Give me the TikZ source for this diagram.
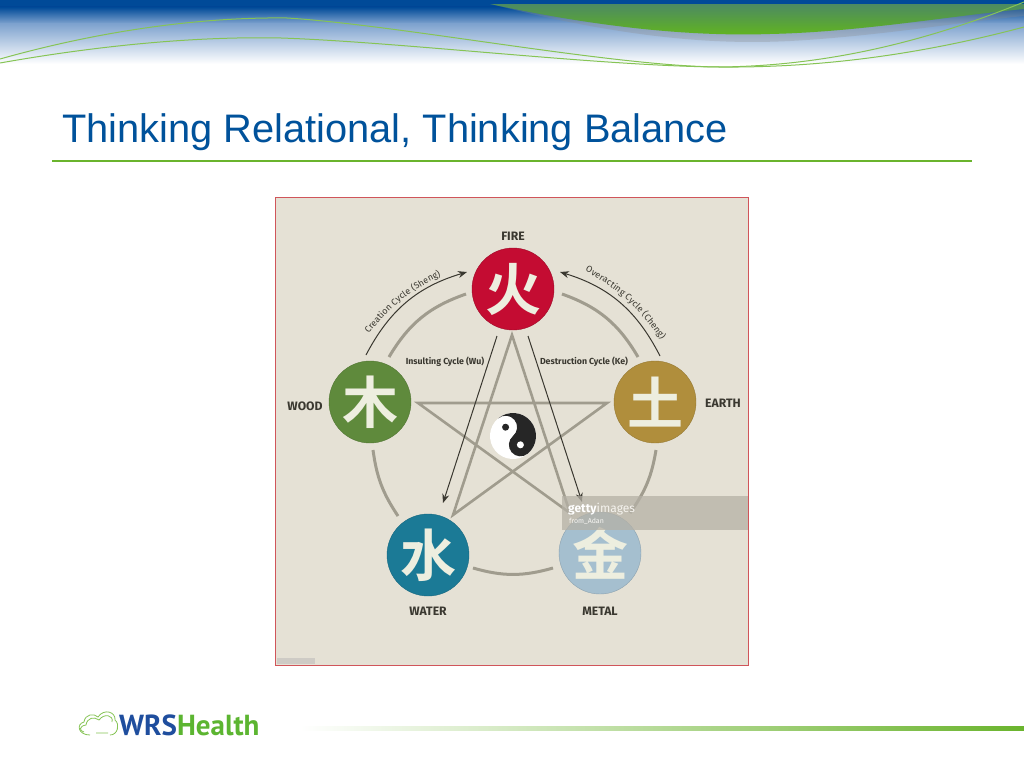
\documentclass[tikz,border=0pt]{standalone}
\usepackage{fontspec}
\usepackage{tikz}
\usetikzlibrary{arrows.meta,decorations.text}
\setmainfont{Liberation Sans}
\newfontfamily\labelfont{Fira Sans}
\newfontfamily\logofont{PT Sans}
\newfontfamily\hanfont{Noto Sans CJK SC}[BoldFont={* Bold}]
\definecolor{slideblue}{HTML}{00529B}
\definecolor{barblue}{HTML}{004A98}
\definecolor{midblue}{HTML}{7FA3CF}
\definecolor{slidegreen}{HTML}{6AB42D}
\definecolor{wavegreen}{HTML}{86C455}
\definecolor{logoblue}{HTML}{1F4E9E}
\definecolor{logogreen}{HTML}{5CB531}
\definecolor{blobtop}{HTML}{4C8A62}
\definecolor{blobbottom}{HTML}{62B51E}
\definecolor{panel}{HTML}{E5E1D5}
\definecolor{panelred}{HTML}{D0555A}
\definecolor{ring}{HTML}{A09C8E}
\definecolor{ink}{HTML}{3A3830}
\definecolor{hanpale}{HTML}{EDEEDF}
\definecolor{firered}{HTML}{C40C32}
\definecolor{woodgreen}{HTML}{5F8A3C}
\definecolor{eartholive}{HTML}{B08E3C}
\definecolor{waterteal}{HTML}{1B7A96}
\definecolor{metalblue}{HTML}{A5BFCF}
\definecolor{bandgrey}{HTML}{B5B1A6}
\tikzset{
	element/.style={circle,minimum size=82pt,inner sep=0pt,text=hanpale,font=\hanfont\bfseries\fontsize{56}{56}\selectfont},
	elementname/.style={text=ink,inner sep=0pt,font=\labelfont\fontsize{12.2}{13}\selectfont\bfseries},
	cyclename/.style={text=ink,inner sep=0pt,font=\labelfont\fontsize{8.8}{10}\selectfont\bfseries},
	ringline/.style={draw=ring,line width=3pt},
	starline/.style={draw=ring,line width=2.6pt,line join=miter},
	thinarrow/.style={draw=ink,line width=1pt,-{Stealth[length=9pt,width=7pt]}},
	cyclepath/.style={decorate,decoration={text along path,text align={fit to path},text color=ink,
		text={|\labelfont\fontsize{9}{10}\selectfont|#1}}}
}
\begin{document}
\begin{tikzpicture}[x=1pt,y=-1pt]
	\useasboundingbox (0,0) rectangle (1024,768);
	\fill[white] (0,0) rectangle (1024,768);
	% header band
	\fill[barblue] (0,0) rectangle (1024,7);
	\shade[top color=barblue,bottom color=midblue] (0,7) rectangle (1024,24);
	\shade[top color=midblue,bottom color=white] (0,24) rectangle (1024,64);
	\fill[black!45,opacity=0.3] (495,5) .. controls (640,42) and (730,44) .. (790,41) .. controls (880,36) and (960,22) .. (1024,16) -- (1024,5) -- cycle;
	\shade[top color=blobtop,bottom color=blobbottom] (490,4) .. controls (620,32) and (710,36) .. (770,34) .. controls (860,32) and (950,16) .. (1024,9) -- (1024,4) -- cycle;
	\fill[barblue] (490,0) rectangle (1024,4);
	\draw[wavegreen,line width=1pt] (0,59) .. controls (110,28) and (210,17) .. (287,18) .. controls (400,25) and (610,66) .. (719,67) .. controls (830,66) and (930,40) .. (1024,2);
	\draw[wavegreen,line width=1pt] (0,63) .. controls (90,47) and (190,36) .. (281,38) .. controls (400,42) and (600,66) .. (719,67) .. controls (830,68) and (930,52) .. (1024,27);
	% title
	\node[anchor=base west,inner sep=0pt,text=slideblue,font=\fontsize{39.8}{44}\selectfont] (title) at (62,142) {Thinking Relational, Thinking Balance};
	\draw[slidegreen,line width=2pt] (52,161) -- (972,161);
	% picture panel
	\fill[panel] (275,197) rectangle (748,665);
	\fill[black!30,opacity=0.45] (277,658) rectangle (315,664);
	% five elements
	\node[element,fill=firered,draw=firered!80!black] (fire) at (513,289) {火};
	\node[element,fill=woodgreen,draw=woodgreen!85!black] (wood) at (370,402) {木};
	\node[element,fill=eartholive,draw=eartholive!85!black] (earth) at (655,402) {土};
	\node[element,fill=waterteal,draw=waterteal!85!black] (water) at (428,555) {水};
	\node[element,fill=metalblue,draw=metalblue!85!black] (metal) at (600,553) {金};
	\node[elementname] (firename) at (513,236) {FIRE};
	\node[elementname] (woodname) at (305,406) {WOOD};
	\node[elementname] (earthname) at (723,403) {EARTH};
	\node[elementname] (watername) at (428,611) {WATER};
	\node[elementname] (metalname) at (600,611) {METAL};
	% ring pieces between the circles
	\coordinate (ringa) at (389,357);
	\coordinate (ringb) at (466,294);
	\coordinate (ringc) at (562,294);
	\coordinate (ringd) at (638,357);
	\coordinate (ringe) at (656,450);
	\coordinate (ringf) at (630,513);
	\coordinate (ringg) at (553,568);
	\coordinate (ringh) at (473,568);
	\coordinate (ringi) at (398,516);
	\coordinate (ringj) at (373,450);
	\path[ringline] (ringa) to[bend left=20] (ringb);
	\path[ringline] (ringc) to[bend left=20] (ringd);
	\path[ringline] (ringe) to[bend left=13] (ringf);
	\path[ringline] (ringg) to[bend left=16] (ringh);
	\path[ringline] (ringi) to[bend left=13] (ringj);
	% star
	\coordinate (startop) at (512,335);
	\coordinate (starleft) at (418,403);
	\coordinate (starright) at (607,403);
	\coordinate (starwater) at (453,515);
	\coordinate (starmetal) at (570,513);
	\path[starline] (startop) -- (starwater) -- (starright) -- (starleft) -- (starmetal) -- cycle;
	% yin and yang
	\begin{scope}[shift={(513,436)},rotate=40]
		\fill[white] (0,0) circle (23);
		\fill[black!85] (0,-23) arc (-90:90:23) arc (90:270:11.5) arc (90:-90:11.5) -- cycle;
		\fill[white] (0,11.5) circle (3.5);
		\fill[black!85] (0,-11.5) circle (3.5);
	\end{scope}
	% thin arrows
	\coordinate (creationa) at (366,355);
	\coordinate (creationb) at (467,272);
	\coordinate (overa) at (660,356);
	\coordinate (overb) at (560,272);
	\coordinate (wua) at (497,336);
	\coordinate (wub) at (443,503);
	\coordinate (kea) at (528,336);
	\coordinate (keb) at (582,502);
	\path[thinarrow] (creationa) to[bend left=23] (creationb);
	\path[thinarrow] (overa) to[bend right=23] (overb);
	\path[thinarrow] (wua) -- (wub);
	\path[thinarrow] (kea) -- (keb);
	% cycle names
	\coordinate (sheng) at (369,334);
	\coordinate (shengend) at (441,276);
	\coordinate (cheng) at (585,271);
	\coordinate (chengend) at (661,340);
	\path[cyclepath={Creation Cycle (Sheng)}] (sheng) to[bend left=13] (shengend);
	\path[cyclepath={Overacting Cycle (Cheng)}] (cheng) to[bend left=13] (chengend);
	\node[cyclename] (wuname) at (445,362) {Insulting Cycle (Wu)};
	\node[cyclename] (kename) at (584,362) {Destruction Cycle (Ke)};
	% stock photo band
	\fill[bandgrey,opacity=0.75] (562,496) rectangle (748,530);
	\node[anchor=base west,inner sep=0pt,text=white,font=\labelfont\fontsize{12}{12}\selectfont] (getty) at (568,512) {\textbf{getty}\textcolor{white!60!panel}{images}};
	\node[anchor=base west,inner sep=0pt,text=white!70!panel,font=\labelfont\fontsize{7}{8}\selectfont] (credit) at (569,523) {from\_Adan};
	\draw[panelred,line width=1pt] (275,197) rectangle (748,665);
	% logo
	\draw[wavegreen,line width=0.8pt] (90,735) .. controls (78,735) and (76,724) .. (84,722) .. controls (85,714) and (94,713) .. (98,717) .. controls (104,708) and (116,712) .. (115,720) .. controls (120,724) and (118,735) .. (110,735) (96,733) -- (108,733);
	\draw[wavegreen,line width=0.8pt] (84,732) .. controls (79,731) and (79,726) .. (86,725) .. controls (87,718) and (94,716) .. (99,720) .. controls (104,713) and (114,715) .. (112,722);
	\node[anchor=base west,inner sep=0pt,font=\logofont\bfseries\fontsize{29}{30}\selectfont] (logo) at (119,735) {\textcolor{logoblue}{WRS}\textcolor{logogreen}{Health}};
	% footer line
	\shade[left color=white,right color=slidegreen] (300,726) rectangle (1024,730);
\end{tikzpicture}
\end{document}
